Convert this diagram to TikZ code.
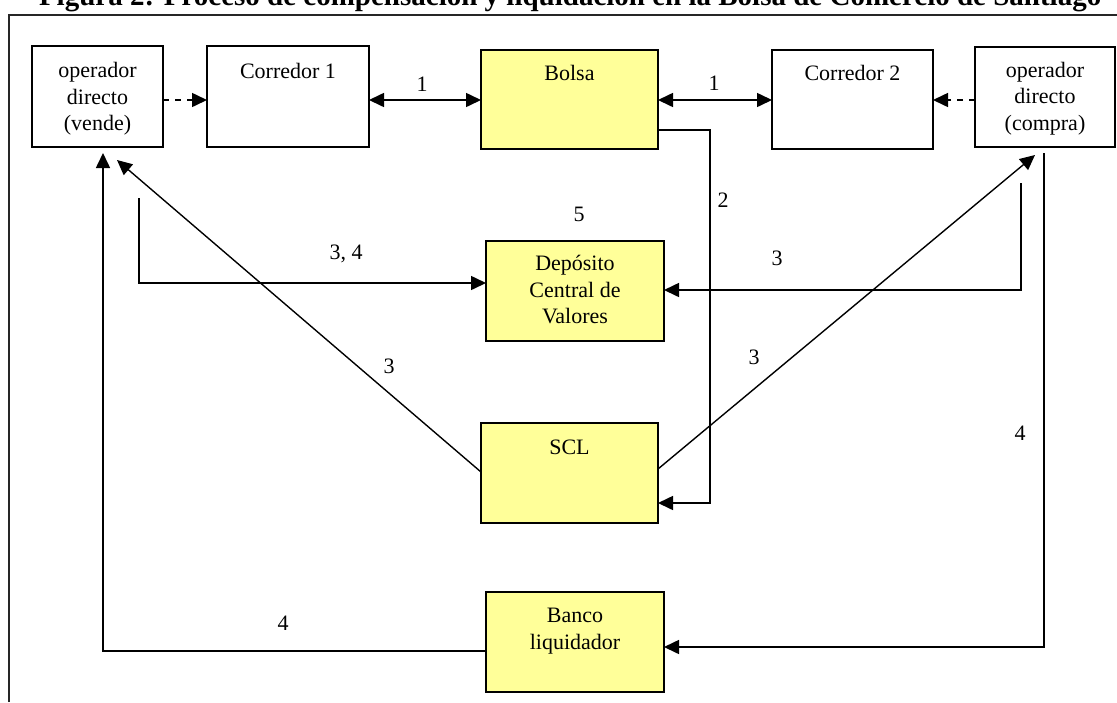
\documentclass[tikz,border=0pt]{standalone}
\usepackage{fontspec}
\setmainfont{Liberation Serif}
\usetikzlibrary{arrows.meta,calc}
\definecolor{boxyellow}{HTML}{FFFF99}
\begin{document}
\begin{tikzpicture}[x=1pt,y=-1pt,
  every node/.style={font=\fontsize{22}{26.5}\selectfont, inner sep=0pt, outer sep=0pt},
  box/.style={draw, line width=1.8pt, fill=white},
  ybox/.style={box, fill=boxyellow},
  conn/.style={line width=1.6pt},
  arr/.style={conn, -{Triangle[length=15pt,width=14pt]}},
  darr/.style={conn, {Triangle[length=15pt,width=14pt]}-{Triangle[length=15pt,width=14pt]}},
  dasharr/.style={arr, dash pattern=on 6pt off 6pt},
  txt/.style={align=center}]
\useasboundingbox (0,0) rectangle (1117,702);
% title (clipped at top)
\node[anchor=base west, font=\fontsize{29}{30}\selectfont\bfseries] (title) at (39,5)
  {Figura 2: Proceso de compensación y liquidación en la Bolsa de Comercio de Santiago};
% frame
\draw[line width=2pt, black!85] (9,702) -- (9,15) -- (1117,15);
% boxes
\node[box, minimum width=131pt, minimum height=101pt] (A) at (97.5,96.5) {};
\node[box, minimum width=162pt, minimum height=101pt] (C1) at (288,96.5) {};
\node[ybox, minimum width=177pt, minimum height=99pt] (B) at (569.5,99.5) {};
\node[box, minimum width=161pt, minimum height=99pt] (C2) at (852.5,99.5) {};
\node[box, minimum width=140pt, minimum height=100pt] (D) at (1045,97) {};
\node[ybox, minimum width=178pt, minimum height=100pt] (DCV) at (575,291) {};
\node[ybox, minimum width=177pt, minimum height=100pt] (SCL) at (569.5,473) {};
\node[ybox, minimum width=178pt, minimum height=100pt] (BL) at (575,642) {};
% box texts
\node[txt] (At) at (97.5,99) {operador\\directo\\(vende)};
\node[anchor=base] (C1t) at (288,78) {Corredor 1};
\node[anchor=base] (Bt) at (569.5,80) {Bolsa};
\node[anchor=base] (C2t) at (852.5,80) {Corredor 2};
\node[txt] (Dt) at (1045,98.5) {operador\\directo\\(compra)};
\node[txt] (DCVt) at (575,290) {Depósito\\Central de\\Valores};
\node[anchor=base] (SCLt) at (569.5,454) {SCL};
\node[txt] (BLt) at (575,631) {Banco\\liquidador};
% free ends
\coordinate (s34) at (139,198);
\coordinate (s3r) at (1021,183);
\coordinate (s4r) at (1044,153);
\coordinate (tA3) at (117,160);
\coordinate (tD3) at (1035,155);
\coordinate (tA4) at (103,153);
% connectors
\draw[dasharr] ([yshift=-3.5pt]A.east) -- ([yshift=-3.5pt]C1.west);
\draw[darr] ([yshift=-3.5pt]C1.east) -- (B.west |- 0,100);
\draw[darr] ([yshift=-0.5pt]B.east) -- ([yshift=-0.5pt]C2.west);
\draw[dasharr] (D.west |- 0,100) -- ([yshift=-0.5pt]C2.east);
\draw[arr] (B.east |- 0,130) -- (710,130) -- (710,503) -- (SCL.east |- 0,503);
\draw[arr] (s34) |- (DCV.west |- 0,283);
\draw[arr] (s3r) |- (DCV.east |- 0,290);
\draw[arr, line width=1.4pt] (SCL.west |- 0,472) -- (tA3);
\draw[arr, line width=1.4pt] (SCL.east |- 0,469) -- (tD3);
\draw[arr] (s4r) |- (BL.east |- 0,647);
\draw[arr] (BL.west |- 0,651) -| (tA4);
% labels
\node (l1a) at (422,84) {1};
\node (l1b) at (714,83) {1};
\node (l2) at (723,200) {2};
\node (l5) at (579,214) {5};
\node[anchor=base] (l34) at (346,259.4) {3, 4};
\node (l3a) at (777,258) {3};
\node (l3b) at (389,366) {3};
\node (l3c) at (754,357) {3};
\node (l4a) at (1020,433) {4};
\node (l4b) at (283,623) {4};
\end{tikzpicture}
\end{document}
